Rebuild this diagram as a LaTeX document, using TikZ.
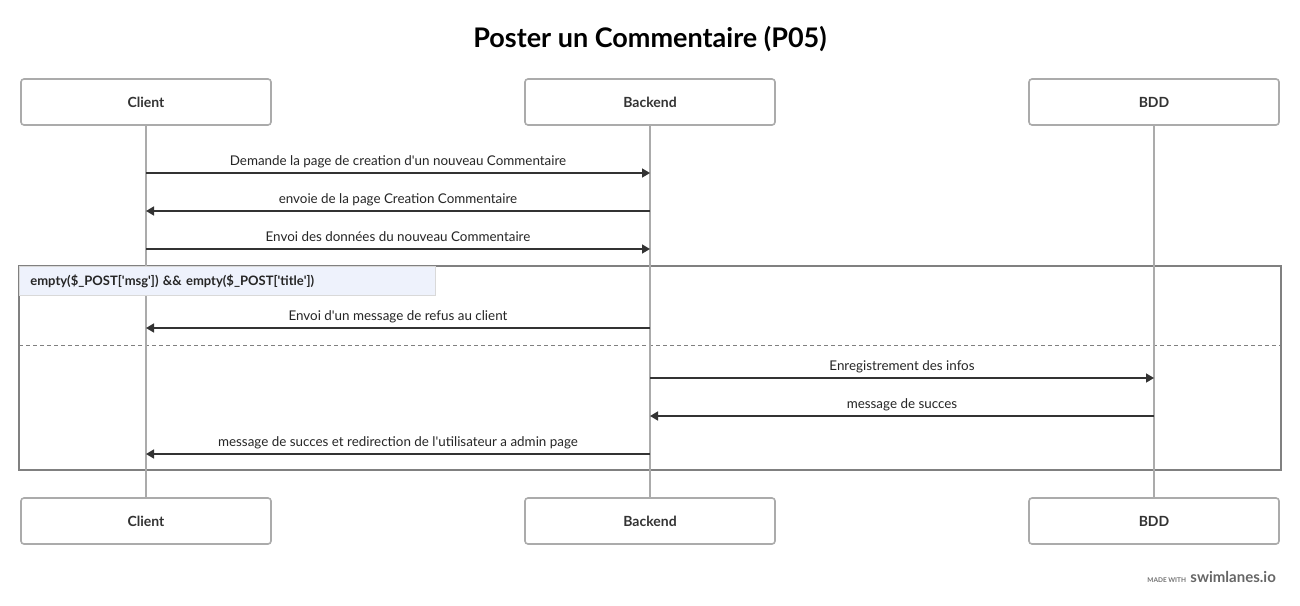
\documentclass[tikz,border=0pt]{standalone}
\usepackage{fontspec}
\setmainfont{Lato}
\usetikzlibrary{positioning, calc, arrows.meta}

\colorlet{boxline}{black!33}
\colorlet{lifeline}{black!33}
\colorlet{msgline}{black!80}
\colorlet{altline}{black!50}
\definecolor{altlabel}{HTML}{EEF2FC}
\newcommand{\sq}{\textquotesingle}

\tikzset{
  actor/.style={draw=boxline, line width=1.6pt, rounded corners=3pt, fill=white,
    minimum width=250pt, minimum height=46pt, font=\fontsize{14}{16}\selectfont\bfseries, text=black!80},
  msg/.style={draw=msgline, line width=1.6pt, -{Triangle[length=8pt,width=9pt]}},
  msglabel/.style={font=\fontsize{13.4}{15}\selectfont, text=black!85, inner sep=0pt, anchor=base, yshift=8pt}
}

\begin{document}
\begin{tikzpicture}[x=1pt, y=-1pt]
\useasboundingbox (0,0) rectangle (1300,605);
\fill[white] (0,0) rectangle (1300,605);

%title
\node[font=\fontsize{27}{31}\selectfont\bfseries] (title) at (650,39) {Poster un Commentaire (P05)};

%alt box frame
\coordinate (altNW) at (19,266);
\coordinate (altSE) at (1281,470);
\draw[altline, line width=1.6pt] (altNW) rectangle (altSE);
\coordinate (sepL) at (19,345);
\coordinate (sepR) at (1281,345);
\draw[altline, line width=1pt, dash pattern=on 4pt off 3pt] (sepL) -- (sepR);

%participants
\node[actor] (clientT) at (146,102) {Client};
\node[actor] (backendT) at (650,102) {Backend};
\node[actor] (bddT) at (1154,102) {BDD};
\node[actor] (clientB) at (146,521) {Client};
\node[actor] (backendB) at (650,521) {Backend};
\node[actor] (bddB) at (1154,521) {BDD};

%lifelines
\draw[lifeline, line width=1.6pt] (clientT) -- (clientB);
\draw[lifeline, line width=1.6pt] (backendT) -- (backendB);
\draw[lifeline, line width=1.6pt] (bddT) -- (bddB);

%condition label
\node[draw=black!15, fill=altlabel, line width=0.8pt, anchor=north west, minimum width=416pt, minimum height=29pt,
  font=\fontsize{13}{15}\selectfont\bfseries, text=black!85, align=left, text width=394pt, inner xsep=11pt] (cond) at (altNW)
  {empty(\$\_POST[\sq msg\sq]) \&\& empty(\$\_POST[\sq title\sq])};

%messages
\coordinate (c1) at (146,173); \coordinate (b1) at (650,173);
\coordinate (c2) at (146,211); \coordinate (b2) at (650,211);
\coordinate (c3) at (146,249); \coordinate (b3) at (650,249);
\coordinate (c4) at (146,328); \coordinate (b4) at (650,328);
\coordinate (b5) at (650,378); \coordinate (d5) at (1154,378);
\coordinate (b6) at (650,416); \coordinate (d6) at (1154,416);
\coordinate (c7) at (146,454); \coordinate (b7) at (650,454);

\draw[msg] (c1) -- node[msglabel] {Demande la page de creation d\sq un nouveau Commentaire} (b1);
\draw[msg] (b2) -- node[msglabel] {envoie de la page Creation Commentaire} (c2);
\draw[msg] (c3) -- node[msglabel] {Envoi des données du nouveau Commentaire} (b3);
\draw[msg] (b4) -- node[msglabel] {Envoi d\sq un message de refus au client} (c4);
\draw[msg] (b5) -- node[msglabel] {Enregistrement des infos} (d5);
\draw[msg] (d6) -- node[msglabel] {message de succes} (b6);
\draw[msg] (b7) -- node[msglabel] {message de succes et redirection de l\sq utilisateur a admin page} (c7);

%watermark
\node[anchor=base east, inner sep=0pt, font=\fontsize{15}{17}\selectfont\bfseries, text=black!60] (brand) at (1276,582) {swimlanes.io};
\node[anchor=base east, inner sep=0pt, font=\fontsize{6.5}{8}\selectfont\bfseries, text=black!55, left=4pt of brand.base west, anchor=base east] (made) {MADE WITH};
\end{tikzpicture}
\end{document}
